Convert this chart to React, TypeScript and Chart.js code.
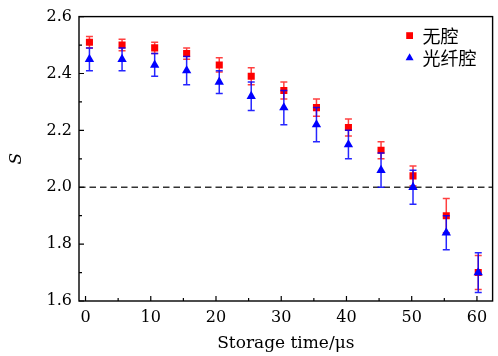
import React, { useEffect, useRef } from "react";
import { Chart, registerables } from "chart.js";

Chart.register(...registerables);

// ---- data ----
const times = [0.6, 5.6, 10.6, 15.5, 20.5, 25.4, 30.4, 35.4, 40.3, 45.3, 50.2, 55.3, 60.2];
const noCavity = [2.51, 2.50, 2.49, 2.47, 2.43, 2.39, 2.34, 2.28, 2.21, 2.13, 2.04, 1.90, 1.70];
const noCavityErr = [0.02, 0.02, 0.02, 0.02, 0.025, 0.03, 0.03, 0.03, 0.03, 0.03, 0.035, 0.06, 0.06];
const fiberCavity = [2.45, 2.45, 2.43, 2.41, 2.37, 2.32, 2.28, 2.22, 2.15, 2.06, 2.00, 1.84, 1.70];
const fiberCavityErr = [0.04, 0.04, 0.04, 0.05, 0.04, 0.05, 0.06, 0.06, 0.05, 0.06, 0.06, 0.06, 0.07];
const seriesLabels = ["无腔", "光纤腔"];
const xTicks = [0, 10, 20, 30, 40, 50, 60];
const xMinorTicks = [5, 15, 25, 35, 45, 55];
const yTicks = [1.6, 1.8, 2.0, 2.2, 2.4, 2.6];
const yMinorTicks = [1.7, 1.9, 2.1, 2.3, 2.5];
const threshold = 2.0;
const xLabel = "Storage time/μs";
const yLabel = "S";

const SERIF = "'DejaVu Serif', serif";
const CJK = "'Noto Sans CJK SC', sans-serif";

const errorBarPlugin = {
  id: "errorBars",
  beforeDatasetDraw(chart: any, args: any) {
    const ds: any = chart.data.datasets[args.index];
    if (!ds.errors) return;
    const y = chart.scales.y;
    const ctx = chart.ctx;
    ctx.save();
    ctx.strokeStyle = ds.errorColor;
    ctx.lineWidth = 1.5;
    const cap = 3.5;
    args.meta.data.forEach((pt: any, i: number) => {
      const v = ds.data[i].y;
      const e = ds.errors[i];
      const top = y.getPixelForValue(v + e);
      const bot = y.getPixelForValue(v - e);
      const x = pt.x;
      ctx.beginPath();
      ctx.moveTo(x, top);
      ctx.lineTo(x, bot);
      ctx.moveTo(x - cap, top);
      ctx.lineTo(x + cap, top);
      ctx.moveTo(x - cap, bot);
      ctx.lineTo(x + cap, bot);
      ctx.stroke();
    });
    ctx.restore();
  },
};

const decorPlugin = {
  id: "decor",
  beforeDatasetsDraw(chart: any) {
    const { ctx, chartArea: a, scales } = chart;
    const yy = scales.y.getPixelForValue(threshold);
    ctx.save();
    ctx.strokeStyle = "#333";
    ctx.lineWidth = 1.3;
    ctx.setLineDash([6.5, 4]);
    ctx.beginPath();
    ctx.moveTo(a.left, yy);
    ctx.lineTo(a.right, yy);
    ctx.stroke();
    ctx.restore();
  },
  afterDraw(chart: any) {
    const { ctx, chartArea: a, scales } = chart;
    ctx.save();
    ctx.strokeStyle = "#000";
    ctx.lineWidth = 1.4;
    ctx.strokeRect(a.left, a.top, a.right - a.left, a.bottom - a.top);
    ctx.lineWidth = 1.2;
    ctx.beginPath();
    const xt = (vals: number[], len: number) => {
      vals.forEach((v) => {
        const px = scales.x.getPixelForValue(v);
        ctx.moveTo(px, a.bottom);
        ctx.lineTo(px, a.bottom - len);
      });
    };
    const yt = (vals: number[], len: number) => {
      vals.forEach((v) => {
        const py = scales.y.getPixelForValue(v);
        ctx.moveTo(a.left, py);
        ctx.lineTo(a.left + len, py);
      });
    };
    xt(xTicks, 5);
    xt(xMinorTicks, 3);
    yt(yTicks, 5);
    yt(yMinorTicks, 3);
    ctx.stroke();

    // legend
    const lx = a.right - 83;
    const ly0 = a.top + 19;
    const rowH = 22;
    chart.data.datasets.forEach((ds: any) => {
      if (ds.legendIndex === undefined) return;
      const cy = ly0 + ds.legendIndex * rowH;
      ctx.fillStyle = ds.backgroundColor;
      ctx.beginPath();
      if (ds.pointStyle === "rect") {
        ctx.rect(lx - 3.4, cy - 3.4, 6.8, 6.8);
      } else {
        ctx.moveTo(lx, cy - 4.4);
        ctx.lineTo(lx + 4, cy + 2.6);
        ctx.lineTo(lx - 4, cy + 2.6);
        ctx.closePath();
      }
      ctx.fill();
      ctx.fillStyle = "#000";
      ctx.font = `18px ${CJK}`;
      ctx.textBaseline = "middle";
      ctx.textAlign = "left";
      ctx.fillText(ds.label, lx + 13, cy + 1);
    });
    ctx.restore();
  },
};

export default function App() {
  const ref = useRef<HTMLCanvasElement | null>(null);
  useEffect(() => {
    if (!ref.current) return;
    const chart = new Chart(ref.current, {
      type: "scatter",
      data: {
        datasets: [
          {
            label: seriesLabels[1],
            data: times.map((t, i) => ({ x: t, y: fiberCavity[i] })),
            backgroundColor: "#0000ff",
            borderColor: "#0000ff",
            borderWidth: 0,
            pointStyle: "triangle",
            pointRadius: 5.4,
            order: 1,
            errors: fiberCavityErr,
            errorColor: "rgba(0,0,255,0.85)",
            legendIndex: 1,
          } as any,
          {
            label: seriesLabels[0],
            data: times.map((t, i) => ({ x: t, y: noCavity[i] })),
            backgroundColor: "#ff0000",
            borderColor: "#ff0000",
            borderWidth: 0,
            pointStyle: "rect",
            pointRadius: 5,
            order: 2,
            errors: noCavityErr,
            errorColor: "rgba(255,0,0,0.75)",
            legendIndex: 0,
          } as any,
        ],
      },
      options: {
        animation: false,
        responsive: false,
        layout: { padding: { left: 0, right: 3, top: 14, bottom: 0 } },
        plugins: { legend: { display: false }, tooltip: { enabled: false } },
        scales: {
          x: {
            type: "linear",
            min: -1,
            max: 62.4,
            grid: { display: false, drawTicks: false },
            border: { display: false },
            afterBuildTicks: (s: any) => {
              s.ticks = xTicks.map((v) => ({ value: v }));
            },
            afterFit: (s: any) => {
              s.height = 55;
            },
            ticks: {
              padding: 7,
              color: "#000",
              font: { family: SERIF, size: 16 },
              callback: (v: any) => String(v),
            },
            title: {
              display: true,
              text: xLabel,
              color: "#000",
              font: { family: SERIF, size: 17 },
              padding: { top: 0, bottom: 2 },
            },
          },
          y: {
            type: "linear",
            min: 1.6,
            max: 2.6,
            grid: { display: false, drawTicks: false },
            border: { display: false },
            afterBuildTicks: (s: any) => {
              s.ticks = yTicks.map((v) => ({ value: v }));
            },
            afterFit: (s: any) => {
              s.width = 79;
            },
            ticks: {
              padding: 7,
              color: "#000",
              font: { family: SERIF, size: 16 },
              callback: (v: any) => Number(v).toFixed(1),
            },
            title: {
              display: true,
              text: yLabel,
              color: "#000",
              font: { family: SERIF, size: 17, style: "italic" },
              padding: { top: 6, bottom: 0 },
            },
          },
        },
      },
      plugins: [errorBarPlugin, decorPlugin],
    } as any);
    return () => chart.destroy();
  }, []);
  return (
    <div style={{ position: "absolute", left: 0, top: 0, width: 498, height: 356, background: "#fff" }}>
      <canvas ref={ref} width={498} height={356} style={{ width: 498, height: 356, display: "block" }} />
    </div>
  );
}
